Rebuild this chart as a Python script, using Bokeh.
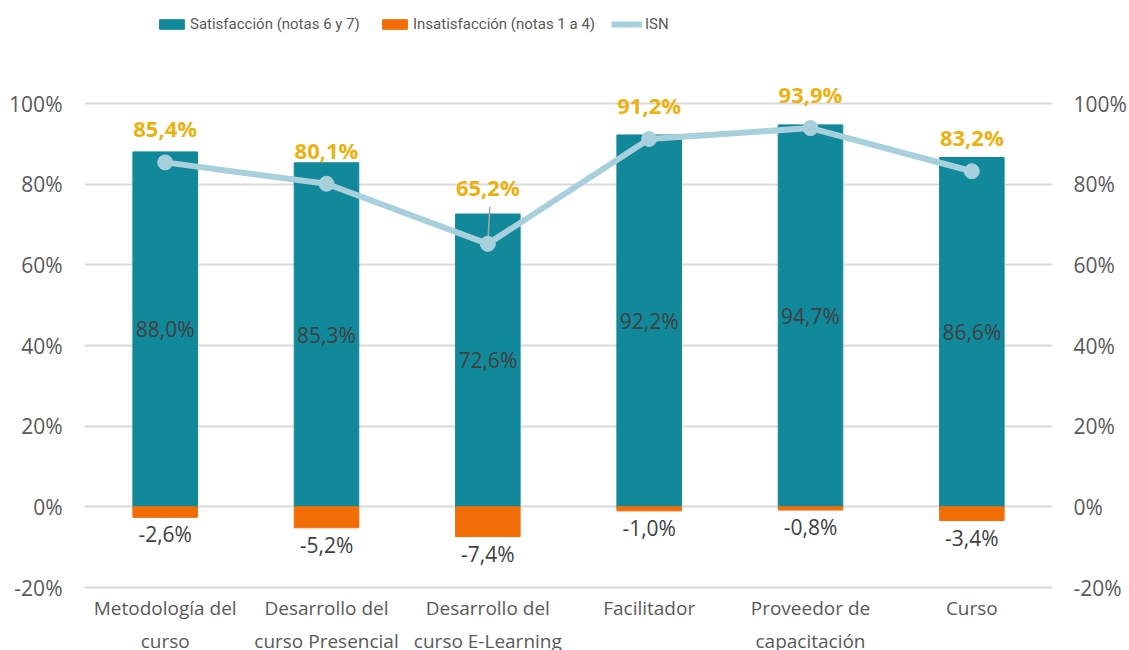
from bokeh.plotting import figure
from bokeh.models import (ColumnDataSource, FixedTicker, LinearAxis, Range1d,
                          Legend, LegendItem)
from bokeh.core.properties import value
from bokeh.embed import file_html
from bokeh.resources import INLINE

categories = ["Metodología del\ncurso", "Desarrollo del\ncurso Presencial",
              "Desarrollo del\ncurso E-Learning", "Facilitador",
              "Proveedor de\ncapacitación", "Curso"]
satisfaccion = [88.0, 85.3, 72.6, 92.2, 94.7, 86.6]
insatisfaccion = [-2.6, -5.2, -7.4, -1.0, -0.8, -3.4]
isn = [85.4, 80.1, 65.2, 91.2, 93.9, 83.2]
y_ticks = [-20, 0, 20, 40, 60, 80, 100]
legend_labels = ["Satisfacción (notas 6 y 7)", "Insatisfacción (notas 1 a 4)", "ISN"]

TEAL = "#12899A"
ORANGE = "#F36D07"
ISN_C = "#A7CFDC"
GOLD = "#EDB10F"
GRAY = "#595959"
DARK = "#404040"
FONT = "Open Sans"

def fmt(v):
    return ("%.1f%%" % v).replace(".", ",")

W, H = 1129, 650
LEFT, RIGHT = 84, 75
AX_TOP, AX_BOT = 103, 587         # pixel rows of 100% and -20% inside figure
PPU = (AX_BOT - AX_TOP) / 120.0   # pixels per percent unit
y_hi = 100 + AX_TOP / PPU
y_lo = -20 - (H - AX_BOT) / PPU

x = list(range(len(categories)))
px = 1.0 / PPU
isn_off = [34 * px] * len(isn)
isn_off[2] = 57 * px

src = ColumnDataSource(dict(
    x=x, sat=satisfaccion, ins=insatisfaccion, isn=isn,
    sat_mid=[v / 2 for v in satisfaccion],
    sat_lbl=[fmt(v) for v in satisfaccion],
    ins_lbl=[fmt(v) for v in insatisfaccion],
    isn_lbl=[fmt(v) for v in isn],
    isn_y=[v + o for v, o in zip(isn, isn_off)],
    cat=categories, cat_y=[-20] * len(categories),
))

p = figure(width=W, height=H, output_backend="svg", toolbar_location=None,
           x_range=Range1d(-0.5, len(categories) - 0.5), y_range=Range1d(y_lo, y_hi),
           min_border_left=LEFT, min_border_right=RIGHT, min_border_top=0,
           min_border_bottom=0)
p.outline_line_color = None
p.background_fill_color = "white"
p.xaxis.visible = False

b1 = p.vbar(x="x", top="sat", bottom=0, width=0.4, color=TEAL, source=src)
b2 = p.vbar(x="x", top=0, bottom="ins", width=0.4, color=ORANGE, source=src)

# leader line for the moved label
i = 2
p.segment(x0=[x[i] + 0.012], y0=[isn[i] + 37 * px], x1=[x[i]], y1=[isn[i]],
          line_color="#A6A6A6", line_width=1.5)

l1 = p.line(x="x", y="isn", line_color=ISN_C, line_width=6, source=src)
s1 = p.scatter(x="x", y="isn", size=15, color=ISN_C, source=src)

p.text(x="x", y="sat_mid", text="sat_lbl", source=src, text_align="center",
       text_baseline="middle", text_font=value(FONT), text_font_size="21px",
       text_color=DARK)
p.text(x="x", y="ins", text="ins_lbl", source=src, text_align="center",
       text_baseline="middle", y_offset=17, text_font=value(FONT),
       text_font_size="21px", text_color=DARK)
p.text(x="x", y="isn_y", text="isn_lbl", source=src, text_align="center",
       text_baseline="middle", text_font=value(FONT), text_font_size="22px",
       text_font_style="bold", text_color=GOLD)
# category labels
p.text(x="x", y="cat_y", text="cat", source=src, text_align="center",
       text_baseline="top", y_offset=7, text_font=value(FONT),
       text_font_size="19px", text_color=GRAY, text_line_height=1.3)

ov = {t: "%d%%" % t for t in y_ticks}
p.yaxis.ticker = FixedTicker(ticks=y_ticks)
p.yaxis.major_label_overrides = ov
ra = LinearAxis(ticker=FixedTicker(ticks=y_ticks), major_label_overrides=ov)
p.add_layout(ra, "right")
for ax in (p.yaxis[0], ra):
    ax.axis_line_color = None
    ax.major_tick_line_color = None
    ax.minor_tick_line_color = None
    ax.major_tick_out = 0
    ax.major_tick_in = 0
    ax.minor_tick_out = 0
    ax.major_label_text_font = FONT
    ax.major_label_text_font_size = "21px"
    ax.major_label_text_color = GRAY
p.yaxis[0].major_label_standoff = 22
ra.major_label_standoff = 21

p.xgrid.grid_line_color = None
p.ygrid.ticker = FixedTicker(ticks=y_ticks)
p.ygrid.grid_line_color = "#D9D9D9"
p.ygrid.grid_line_width = 2

leg_x = [72, 295, 527]
for lab, rends, lx in zip(legend_labels, [[b1], [b2], [l1, s1]], leg_x):
    lg = Legend(items=[LegendItem(label=lab, renderers=rends)],
                location=(lx, H - 34), glyph_width=31, glyph_height=12,
                label_standoff=3, padding=0, margin=0, label_height=20,
                label_text_font="Roboto", label_text_font_size="15px",
                label_text_color=GRAY, border_line_color=None,
                background_fill_alpha=0)
    p.add_layout(lg, "center")

open("out.html", "w").write(file_html(p, INLINE))
